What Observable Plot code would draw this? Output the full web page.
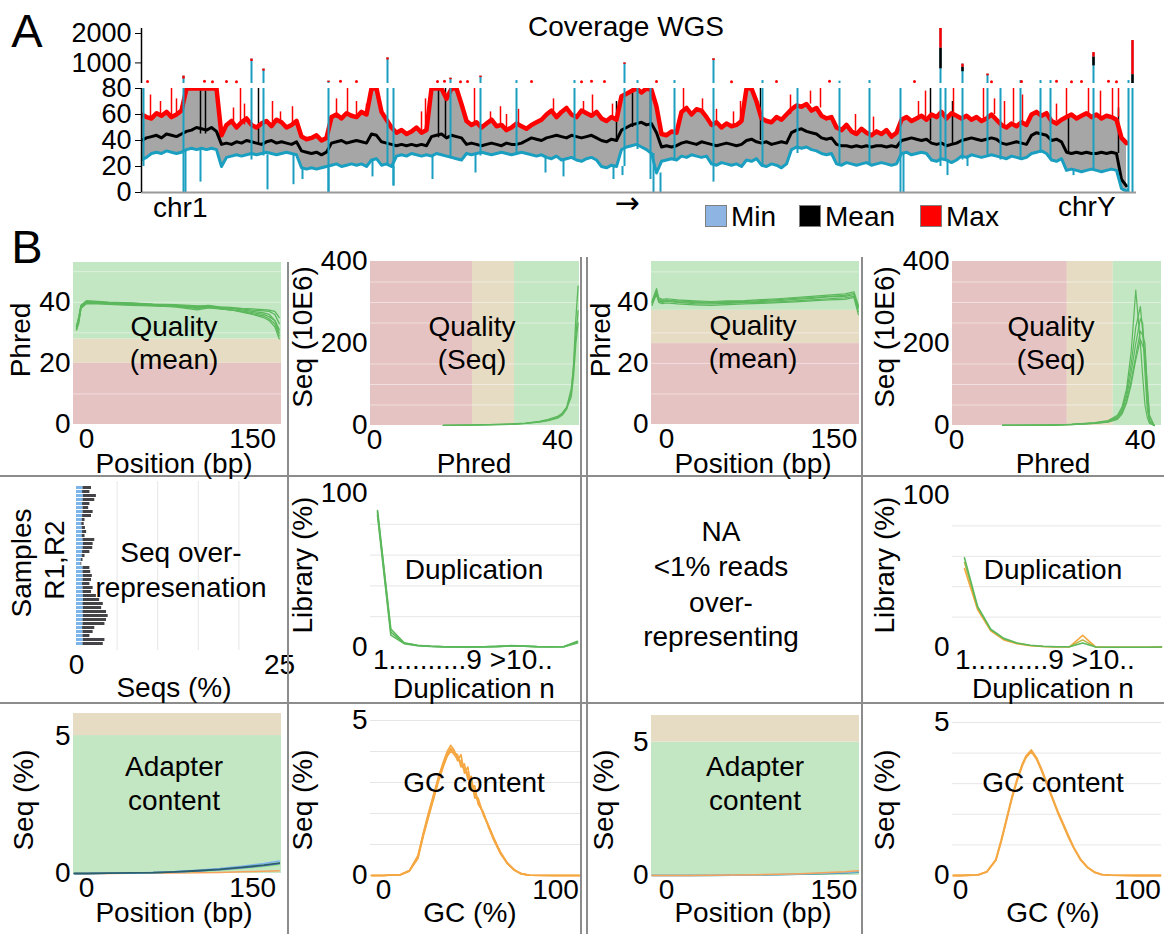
<!DOCTYPE html>
<html><head><meta charset="utf-8">
<script src="https://cdn.jsdelivr.net/npm/d3@7"></script>
<script src="https://cdn.jsdelivr.net/npm/@observablehq/plot@0.6"></script>
<style>
html,body{margin:0;padding:0;background:#fff;}
#root{position:relative;width:1164px;height:934px;overflow:hidden;font-family:"Liberation Sans",Arial,sans-serif;color:#000;background:#fff;}
.t{position:absolute;white-space:nowrap;font-size:28px;line-height:1;}
.sep{position:absolute;background:#8c8c8c;}
.box{position:absolute;width:22px;height:22px;box-sizing:border-box;}
</style></head><body><div id="root"></div>
<script>
// ---------------- DATA: Panel A (coverage, bins along the genome) ----------------
const covMax = [
 60,58, 57,61,59,62,58,60,63, 80,80,80,80,80,80,80, 44,
 52,55,50,54,57,52,50,53,55,51,56,54,50,52,55, 43,41,42,44,40,42,
 58,60,57,61,59,58,62,60, 80,80, 62,56,50, 46,48,45,47,50,46,48,
 80,80,80,72,80,80,68, 55,52,54,50,53,56,51,52,48,50,53,51,49,52,54,56,
 60,63,58,62,65,60,58,63,61,59,62, 57,55,58,56, 74,76,78,80,77,80,79,66,
 45,44,47,46, 62,65,60,64,63,58, 52,54,50,53,51,52,55, 80,80,70,
 57,55,54,58,56,60, 64,67,66,68,63,65, 59,57,58,
 50,48,52,47,45,49,46,44,47,45,48,43,46, 56,58,55,57,59,56, 60,58,62,57,61,59,
 57,59,56,58,55,57,60,56, 52,50,53,51,54,52, 60,62,59,61, 55,53,56,
 58,60,57,59,61,58,60,57,59,58,56, 42,38];
const covMean = [
 40,42, 43,44,42,45,44,43,45, 47,48,50,49,48,50,47, 37,
 38,37,39,38,40,39,38,37,39,40,38,39,38,37,39, 32,31,30,31,29,31,
 38,39,40,38,39,40,39,38, 45,44, 39,38,37, 36,37,36,37,36,37,36,
 43,44,45,42,44,43,42, 37,38,37,36,37,38,37,36,38,37,37,38,40,42,41,40,
 42,43,44,43,42,44,43,42,43,44,42, 40,39,41,40, 48,50,52,53,54,52,53,46,
 35,36,35,36, 38,39,38,37,39,38, 37,36,37,38,37,36,37, 40,41,39,
 38,39,37,38,39,38, 46,48,49,47,46,45, 42,41,42,
 37,36,36,35,36,35,36,35,36,36,35,36,35, 40,41,42,41,40,41, 38,37,38,36,37,38,
 40,41,42,41,40,41,42,41, 38,37,38,39,38,37, 44,46,45,44, 40,41,39,
 31,30,31,30,31,30,30,31,30,31,30, 10,5];
const covMin = [
 25,27, 30,31,30,32,31,30,31, 33,34,33,34,33,34,33, 20,
 27,28,29,28,29,30,29,30,31,30,29,30,31,30,29, 19,18,19,18,19,20,
 21,22,20,21,22,21,22,20, 25,26, 21,22,20, 28,29,28,30,29,28,29,
 28,30,29,28,27,26,25, 30,29,30,31,30,29,30,31,30,29,30,31,30,29,28,29,
 27,26,28,25,26,27,25,24,26,27,25, 20,19,21,20, 33,35,36,37,35,33,30,15,
 24,25,26,25, 28,27,29,28,27,28, 22,21,23,22,21,22,20, 25,24,26,
 21,20,22,21,19,22, 33,35,34,35,33,32, 30,29,30,
 22,21,23,22,21,22,23,21,22,23,22,21,22, 30,31,29,30,31,30, 25,24,26,25,23,25,
 28,27,29,28,27,28,29,28, 27,26,28,27,26,27, 30,31,32,30, 25,24,26,
 17,18,17,16,17,18,17,16,17,18,17, 3,1];
// [bin, low, high] teal spikes reaching the top / upper segment
const tealSpikes = [[0.4,20,80],[8.4,0,550],[22,25,1130],[24.4,28,790],[37.4,0,380],[49.2,20,1170],[50.4,5,80],
 [61.8,26,480],[67.8,28,550],[75,30,400],[86.6,25,400],[96.6,20,1000],[99.2,33,400],[101.8,10,80],[106.6,25,400],
 [114.4,22,1140],[124.2,20,400],[131.2,30,80],[139.6,20,380],[145.6,22,400],[151.8,0,80],[159.8,20,2170],[160.8,25,80],
 [164.2,25,960],[169.2,28,620],[171.8,25,80],[175.8,25,400],[179.8,30,400],[181.8,25,400],[190.4,17,1350],[197.4,0,400],[198.2,0,1760]];
const redTips = [[159.8,1500,2170],[198.2,600,1760],[190.4,1200,1350],[164.2,850,960],[8.4,450,550],[22,1050,1130],
 [49.2,1100,1170],[96.6,950,1000],[114.4,1080,1140],[169.2,560,620],[24.4,720,790],[37.4,330,380],[61.8,430,480],[67.8,500,550]];
const blackTips = [[159.8,800,1500],[198.2,300,600],[190.4,900,1200],[164.2,700,850]];
const redSpikes = [[1.8,55,75],[3.8,58,70],[6,58,80],[7,60,72],[18.4,52,65],[19.8,54,80],[20.6,52,68],[26.2,51,70],[27.8,54,62],
 [30.2,52,66],[39,57,72],[41.2,59,80],[43,59,70],[45,60,68],[56,46,62],[56.8,48,72],[66.6,52,80],[69.8,53,62],[71.8,52,66],
 [73,48,60],[75.4,53,64],[82.4,63,72],[88.4,61,70],[90.2,59,75],[94.2,58,68],[108.4,62,80],[112.2,63,72],[115,54,64],
 [118.4,51,62],[119.8,52,70],[129.8,60,75],[133.8,68,78],[135.8,65,80],[142.8,47,60],[146.4,45,58],[155.4,57,70],
 [156.8,56,78],[162.4,61,80],[168.4,57,80],[170.6,60,72],[172.6,52,70],[174.4,54,80],[176.2,52,75],[183,55,68],
 [185,58,80],[189.4,58,80],[191.8,57,78],[194.2,58,80],[195.4,58,80]];
const blackSpikes = [[11.8,45,80],[12.8,45,78],[23.4,38,80],[59.4,42,80],[60.8,42,80],[95,40,70],[98.2,50,80],
 [101.8,50,80],[123.8,40,80],[157.8,40,80],[162.2,37,70],[185.4,30,60],[195.4,30,65]];
const tealDips = [[8.8,0,33],[11.8,8,33],[25.2,2,29],[30.4,6,30],[32.2,10,19],[37.4,0,19],[46.2,12,25],[50.4,5,20],
 [58.2,10,28],[66.8,15,29],[80.8,15,28],[84.4,12,26],[94.4,10,20],[96.2,13,20],[102.4,0,30],[103.8,0,15],[114.4,8,22],
 [152.4,0,30],[161.2,13,25],[165.2,20,27],[186.4,13,18],[197.2,0,3]];
const redDots = [[1.2,370],[12.6,380],[14.2,360],[17,370],[19,360],[39.8,380],[43,370],[59.2,370],[60.6,380],[63.8,360],
 [65.2,370],[78,370],[88,360],[90,380],[92.6,370],[103,370],[118,360],[127,370],[137.6,380],[154.6,370],[170,360],
 [176,370],[183,380],[186,360],[188,370],[193.4,380],[195,360]];
const covTicksLow = [0,20,40,60,80];
const covTicksHigh = [1000,2000];

// ---------------- DATA: Panel B ----------------
const q1x = [-9,-7,-5,0,10,20,40,60,80,100,110,120,130,140,150,160,165,170,174];
const q1s1 = [31,34,38,40,40,39.8,39.5,39.2,39,38.6,39,38.5,38.3,38,37.8,37.6,37.4,37,35];
const q1s2 = [32,35,39,40.5,40.3,40,39.8,39.4,39.2,38.8,38.6,38.4,38,37.5,37,36.5,36,34,31];
const q1s3 = [31,33,38,39.5,39.5,39.3,39,38.8,38.5,37.5,38.2,37.8,37.5,37,36.2,35.5,34.5,33,29];
const q1s4 = [32,34,38.5,40,40,39.6,39.3,39,38.7,38.2,38.4,38.1,37.6,36.8,36,35,34,32,28];
const q1s5 = [31.5,34,38,39.8,39.7,39.5,39.2,38.9,38.6,38,38.3,37.9,37.4,37.2,36.6,36,35.2,34,30];
const q1s6 = [32,35,38.8,40.2,40.1,39.9,39.7,39.3,39,38.5,38.8,38.3,38.1,37.8,37.4,37.2,37,36,33];
const qs1x = [15,20,25,30,33,36,38,40,41,42,43,43.5,44,44.5];
const qs1a = [0.5,1,2,3,5,8,12,18,25,40,80,150,260,340];
const qs1b = [0.5,1,2,4,6,10,15,22,30,45,90,140,220,280];
const qs1c = [0.4,0.9,1.5,3,5,9,13,20,28,42,70,120,200,250];
const q2x = [-13,-11,-9,-7,-4,0,10,25,40,55,70,85,100,115,130,145,160,168,172];
const q2s1 = [40,42,44,41,40.5,40.8,40.2,40,39.8,40.1,40,40.3,40.6,41,41.3,41.8,42,42.5,38];
const q2s2 = [39,41,43,40.5,40,40.3,40,39.6,39.5,39.7,39.9,40,40.2,40.5,40.8,41.2,41.5,42,37];
const q2s3 = [40.5,42.5,44.5,41.5,41,41.2,40.8,40.5,40.3,40.5,40.6,40.9,41.2,41.6,42,42.4,42.8,43.5,39];
const q2s4 = [39.5,41,42.5,40,39.6,39.8,39.5,39.2,39,39.3,39.5,39.7,39.9,40.2,40.5,40.8,41,41.6,36];
const q2s5 = [40,41.5,43.5,41,40.3,40.5,40.5,40.2,40,40.3,40.3,40.6,40.9,41.3,41.6,42,42.3,43,38.5];
const qs2x = [10,20,25,30,33,35,36,37,38,39,40,40.5,41,41.5,42,43];
const qs2a = [0.2,1,3,7,12,25,45,90,180,330,200,120,50,20,5,0];
const qs2b = [0.2,1,3,6,11,22,40,80,150,240,290,230,130,40,8,0];
const qs2c = [0.2,1,2.5,6,10,20,35,70,130,200,260,250,160,60,12,0];
const qs2d = [0.2,0.8,2,5,9,18,30,60,110,170,230,220,200,90,20,0];
const qs2e = [0.2,0.8,2,5,8,15,28,55,100,160,210,195,180,100,25,0];
const overSamples = d3.range(1, 41);
const overR1 = [0.8,0.75,0.85,0.8,0.75,0.8,0.8,0.75,0.7,0.65,0.7,0.75,0.7,0.8,0.85,0.8,0.75,0.7,0.6,0.55,
 0.8,0.8,0.85,0.8,0.75,0.8,0.8,0.85,0.85,0.8,0.85,0.8,0.85,0.8,0.8,0.75,0.8,0.8,0.85,0.8];
const overR2 = [1.05,0.9,1.6,1.45,0.9,0.7,1.25,1.1,0.35,0.3,0.4,0.5,0.35,1.45,1.2,1.2,0.9,0.35,0.2,0.1,
 0.85,0.95,1.1,1.05,0.9,1.25,1.05,1.6,2.0,2.5,2.25,2.9,3.05,2.9,2.7,1.5,1.25,0.85,2.65,2.5];
const dupX = [1,2,3,4,5,6,7,8,9,10,11,12,13,14,15,16];
const dupL1 = [89,12,3,1.5,0.8,0.5,0.4,0.4,0.5,0.8,1.2,1.0,0.6,0.5,0.6,4];
const dupL2 = [86,8,2.5,1.2,0.7,0.4,0.3,0.4,0.4,0.6,1.0,0.8,0.5,0.4,0.5,3];
const dupL3 = [88,10,2.8,1.3,0.8,0.5,0.4,0.4,0.5,0.7,1.1,0.9,0.5,0.5,0.6,3.5];
const dupRg = [59,27,12,6,3,1.5,0.8,0.5,0.5,3,0.3,0.2,0.2,0.2,0.2,0.3];
const dupRo = [52,25,11,5,2.5,1.2,0.7,0.4,0.4,8,0.3,0.2,0.2,0.2,0.2,0.3];
const dupRy = [56,26,11.5,5.5,2.8,1.4,0.7,0.5,0.5,5,0.3,0.2,0.2,0.2,0.2,0.3];
const dupTickText = "1..........9  >10..";
const ad1x = [-11,0,20,40,60,80,100,120,140,160,174];
const ad1blue = [0,0,0.01,0.02,0.04,0.07,0.12,0.18,0.26,0.36,0.45];
const ad1dark = [0,0,0.01,0.02,0.03,0.06,0.1,0.15,0.22,0.3,0.38];
const ad1green = [0,0,0.01,0.01,0.03,0.05,0.08,0.12,0.18,0.25,0.32];
const ad1purple = [0,0,0.01,0.02,0.03,0.05,0.09,0.14,0.2,0.28,0.35];
const ad1orange = [0,0,0,0.01,0.01,0.02,0.03,0.04,0.06,0.08,0.1];
const ad2x = [-13,0,20,40,60,80,100,120,140,160,172];
const ad2orange = [0,0,0,0.01,0.02,0.03,0.05,0.07,0.1,0.14,0.18];
const ad2blue = [0,0,0,0.01,0.01,0.02,0.04,0.06,0.08,0.11,0.14];
const ad2teal = [0,0,0,0,0.01,0.02,0.03,0.05,0.07,0.09,0.12];
const gc1x = [-7,0,10,15,20,23,26,29,32,35,37,39,41,43,45,47,49,51,53,55,58,61,64,68,72,76,80,85,100,114];
const gc1a = [0,0,0.03,0.15,0.6,1.3,1.9,2.5,3.1,3.6,3.9,4.1,4.0,3.8,3.6,3.4,3.2,2.9,2.6,2.4,2.0,1.6,1.2,0.75,0.4,0.18,0.06,0.01,0,0];
const gc1b = [0,0,0.03,0.16,0.65,1.35,2.0,2.6,3.2,3.7,4.0,4.2,4.05,3.7,3.9,3.3,3.5,2.8,2.9,2.3,2.05,1.55,1.15,0.7,0.38,0.17,0.05,0.01,0,0];
const gc1c = [0,0,0.02,0.14,0.55,1.25,1.85,2.45,3.05,3.55,3.85,4.0,3.95,3.9,3.5,3.6,3.1,3.2,2.5,2.5,1.95,1.6,1.2,0.72,0.4,0.18,0.06,0.01,0,0];
const gc1d = [0,0,0.03,0.15,0.6,1.3,1.95,2.55,3.15,3.65,3.95,4.05,3.9,3.75,3.7,3.45,3.3,3.0,2.75,2.35,2.0,1.62,1.22,0.74,0.4,0.18,0.06,0.01,0,0];
const gc2x = [-4,0,10,15,20,23,26,29,32,35,37,40,43,46,49,52,55,58,61,64,68,72,76,80,85,100,113];
const gc2a = [0,0,0.02,0.12,0.5,1.1,1.8,2.5,3.1,3.6,3.85,4.05,3.8,3.4,2.95,2.5,2.05,1.65,1.25,0.9,0.5,0.25,0.1,0.03,0.01,0,0];
const gc2b = [0,0,0.02,0.13,0.52,1.15,1.85,2.55,3.15,3.65,3.9,4.1,3.85,3.45,3.0,2.55,2.1,1.7,1.3,0.92,0.52,0.26,0.1,0.03,0.01,0,0];
const qMeanZonesL = [0,20,28,53];
const qMeanZonesR = [0,26.5,37.4,53.4];
const qSeqZonesL = [-0.9,21.4,30.6,44.8];
const qSeqZonesR = [-0.9,24.1,34.1,44.6];
const adaptZonesL = [0,5,5.8];
const adaptZonesR = [0,5,6];

// ---------------- STYLE / HELPERS ----------------
const FONT = '"Liberation Sans", Arial, sans-serif';
const RED = "#e6c3c3", BEIGE = "#e6dcc3", GREEN = "#c3e6c3";
const LINEG = "#5cb85c", ORANGE = "#f5a742", TEAL = "#1a9fc0";
const root = document.getElementById("root");
const fmt = d => `${d}`;
const svgStyle = {background: "transparent", fontFamily: FONT, fontSize: "28px", overflow: "visible"};

function place(svg, left, top) {
  svg.style.position = "absolute";
  svg.style.left = left + "px";
  svg.style.top = top + "px";
  root.append(svg);
}
function txt(s, x, y, opt = {}) {
  const d = document.createElement("div");
  d.className = "t";
  d.textContent = s;
  d.style.fontSize = (opt.size || 28) + "px";
  if (opt.font) d.style.fontFamily = opt.font;
  d.style.left = x + "px"; d.style.top = y + "px";
  const ax = opt.anchor === "start" ? "0" : opt.anchor === "end" ? "-100%" : "-50%";
  d.style.transform = `translate(${ax},-50%)` + (opt.rotate ? ` rotate(${opt.rotate}deg)` : "");
  root.append(d);
}
function sep(x, y, w, h) {
  const d = document.createElement("div");
  d.className = "sep";
  Object.assign(d.style, {left: x + "px", top: y + "px", width: w + "px", height: h + "px"});
  root.append(d);
}
function series(xs, ys) { return xs.map((x, i) => ({x, y: ys[i]})); }
function hZones(edges, xd, fills) {
  return edges.slice(1).map((e, i) => ({x1: xd[0], x2: xd[1], y1: edges[i], y2: e, f: fills[i]}));
}
function vZones(edges, yd, fills) {
  return edges.slice(1).map((e, i) => ({x1: edges[i], x2: e, y1: yd[0], y2: yd[1], f: fills[i]}));
}
function frame(o) {
  const ml = 100, mr = 4, mt = 10, mb = 50;
  const W = o.fx[1] - o.fx[0] + ml + mr, H = o.fy[1] - o.fy[0] + mt + mb;
  const marks = [...o.marks];
  if (o.xt) marks.push(Plot.axisX({ticks: o.xt, tickSize: 0, tickPadding: 4, tickFormat: fmt, label: null}));
  if (o.yt) marks.push(Plot.axisY({ticks: o.yt, tickSize: 0, tickPadding: 3, tickFormat: fmt, label: null}));
  const svg = Plot.plot({
    width: W, height: H, marginLeft: ml, marginRight: mr, marginTop: mt, marginBottom: mb,
    x: Object.assign({domain: o.xd, axis: null}, o.xopt || {}),
    y: Object.assign({domain: o.yd, axis: null}, o.yopt || {}),
    color: o.color, style: svgStyle, marks
  });
  place(svg, o.fx[0] - ml, o.fy[0] - mt);
}
const zoneRect = z => Plot.rect(z, {x1: "x1", x2: "x2", y1: "y1", y2: "y2", fill: "f"});
function lines(xs, list, stroke, w) {
  return list.map(ys => Plot.line(series(xs, ys), {x: "x", y: "y", stroke, strokeWidth: w}));
}

// ---------------- PANEL A ----------------
const cov = covMax.map((v, i) => ({b: i, max: v, mean: covMean[i], min: covMin[i]}));
const seg = a => a.map(([b, lo, hi]) => ({b, lo, hi}));
const ruleSeg = (a, stroke, w) => Plot.ruleX(seg(a), {x: "b", y1: "lo", y2: "hi", stroke, strokeWidth: w, clip: true});
const styleA = Object.assign({}, svgStyle, {fontSize: "27px"});
// lower segment 0–80
place(Plot.plot({
  width: 1164, height: 200, marginLeft: 141, marginRight: 28, marginTop: 88, marginBottom: 8,
  x: {domain: [0, 199], axis: null}, y: {domain: [0, 80], axis: null}, style: styleA,
  marks: [
    Plot.areaY(cov, {x: "b", y1: "min", y2: "max", fill: "#a6a6a6", clip: true}),
    ruleSeg(blackSpikes, "#000", 1.5),
    ruleSeg(redSpikes, "#ff0000", 1.5),
    Plot.line(cov, {x: "b", y: "max", stroke: "#ff0000", strokeWidth: 4.5, clip: true}),
    Plot.line(cov, {x: "b", y: "mean", stroke: "#000", strokeWidth: 3, clip: true}),
    Plot.line(cov, {x: "b", y: "min", stroke: TEAL, strokeWidth: 3, clip: true}),
    ruleSeg(tealDips, TEAL, 2),
    ruleSeg(tealSpikes, TEAL, 2),
    Plot.ruleY([0], {stroke: "#999", strokeWidth: 2}),
    Plot.ruleX([0], {stroke: "#000", strokeWidth: 1.5}),
    Plot.axisY({ticks: covTicksLow, tickSize: 6, tickPadding: 4, tickFormat: fmt, label: null})
  ]
}), 0, 0);
// upper segment (>300)
place(Plot.plot({
  width: 1164, height: 83, marginLeft: 141, marginRight: 28, marginTop: 28, marginBottom: 0,
  x: {domain: [0, 199], axis: null}, y: {domain: [300, 2170], axis: null}, style: styleA,
  marks: [
    ruleSeg(tealSpikes, TEAL, 2),
    ruleSeg(blackTips, "#000", 2.5),
    ruleSeg(redTips, "#ff0000", 2.5),
    Plot.dot(redDots.map(([b, v]) => ({b, v})), {x: "b", y: "v", fill: "#ff0000", r: 1.5}),
    Plot.ruleX([0], {stroke: "#000", strokeWidth: 1.5}),
    Plot.axisY({ticks: covTicksHigh, tickSize: 6, tickPadding: 4, tickFormat: fmt, label: null})
  ]
}), 0, 0);
txt("A", 27, 30, {size: 47});
txt("Coverage WGS", 626, 27);
txt("chr1", 153, 208, {anchor: "start"});
txt("chrY", 1058, 207, {anchor: "start"});
txt("→", 627, 203, {size: 30, font: '"DejaVu Sans", sans-serif'});
[["Min", 705, "#8eb4e3"], ["Mean", 799, "#000"], ["Max", 920, "#ff0000"]].forEach(([s, x, c]) => {
  const b = document.createElement("div");
  b.className = "box";
  Object.assign(b.style, {left: x + "px", top: "205px", background: c, border: "1px solid #7f7f7f"});
  root.append(b);
  txt(s, x + 26, 217, {anchor: "start"});
});

// ---------------- PANEL B ----------------
txt("B", 27, 246, {size: 47});

const q1xd = [-11.7, 176], q2xd = [-13.5, 173];
frame({fx: [73, 281], fy: [262, 424], xd: q1xd, yd: [0, 53], xt: [0, 150], yt: [0, 20, 40],
  marks: [zoneRect(hZones(qMeanZonesL, q1xd, [RED, BEIGE, GREEN])),
    Plot.ruleY([10, 30, 40, 50], {stroke: "#fff", strokeOpacity: 0.45}),
    ...lines(q1x, [q1s1, q1s2, q1s3, q1s4, q1s5, q1s6], LINEG, 1.3)]});
frame({fx: [370, 579], fy: [261, 425], xd: [-0.9, 44.8], yd: [0, 400], xt: [0, 40], yt: [0, 200, 400],
  marks: [zoneRect(vZones(qSeqZonesL, [0, 400], [RED, BEIGE, GREEN])),
    Plot.ruleY([50, 100, 150, 250, 300, 350], {stroke: "#fff", strokeOpacity: 0.45}),
    ...lines(qs1x, [qs1a, qs1b, qs1c], LINEG, 1.3)]});
frame({fx: [651, 859], fy: [261, 424], xd: q2xd, yd: [0, 53.4], xt: [0, 150], yt: [0, 20, 40],
  marks: [zoneRect(hZones(qMeanZonesR, q2xd, [RED, BEIGE, GREEN])),
    Plot.ruleY([10, 20, 30, 50], {stroke: "#fff", strokeOpacity: 0.45}),
    ...lines(q2x, [q2s1, q2s2, q2s3, q2s4, q2s5], LINEG, 1.2)]});
frame({fx: [952, 1161], fy: [261, 425], xd: [-0.9, 44.6], yd: [0, 400], xt: [0, 40], yt: [0, 200, 400],
  marks: [zoneRect(vZones(qSeqZonesR, [0, 400], [RED, BEIGE, GREEN])),
    Plot.ruleY([50, 100, 150, 250, 300, 350], {stroke: "#fff", strokeOpacity: 0.45}),
    ...lines(qs2x, [qs2a, qs2b, qs2c, qs2d, qs2e], LINEG, 1.2)]});

const overRows = [];
overSamples.forEach((s, i) => { overRows.push({s, read: "R1", v: overR1[i]}); overRows.push({s, read: "R2", v: overR2[i]}); });
frame({fx: [76, 279], fy: [481, 650], xd: [0, 25], yd: overSamples, xt: [0, 25],
  yopt: {type: "band", padding: 0.15},
  color: {domain: ["R1", "R2"], range: ["#7cb5ec", "#434348"]},
  marks: [Plot.ruleX([5, 10, 15, 20], {stroke: "#e6e6e6"}),
    Plot.barX(overRows, {y: "s", x: "v", fill: "read"})]});
frame({fx: [370, 580], fy: [493, 647], xd: [0.475, 16.23], yd: [0, 100], yt: [0, 100],
  marks: [Plot.ruleY([20, 40, 60, 80], {stroke: "#e6e6e6"}),
    ...lines(dupX, [dupL1, dupL2, dupL3], LINEG, 1.6)]});
frame({fx: [952, 1161], fy: [495, 647], xd: [0.09, 16], yd: [0, 100], yt: [0, 100],
  marks: [Plot.ruleY([20, 40, 60, 80], {stroke: "#e6e6e6"}),
    ...lines(dupX, [dupRo], ORANGE, 1.6), ...lines(dupX, [dupRy], "#b5b33c", 1.4), ...lines(dupX, [dupRg], LINEG, 1.6)]});

const a1xd = [-11.7, 176], a2xd = [-13.5, 173];
frame({fx: [73, 281], fy: [713, 873], xd: a1xd, yd: [0, 5.8], xt: [0, 150], yt: [0, 5],
  marks: [zoneRect(hZones(adaptZonesL, a1xd, [GREEN, BEIGE])),
    ...lines(ad1x, [ad1orange], "#f7a35c", 1.5), ...lines(ad1x, [ad1green], "#90ed7d", 1.5),
    ...lines(ad1x, [ad1purple], "#8085e9", 1.5), ...lines(ad1x, [ad1blue], "#7cb5ec", 1.5),
    ...lines(ad1x, [ad1dark], "#2b5f6b", 1.8)]});
frame({fx: [370, 580], fy: [720, 875], xd: [-7.6, 114.5], yd: [0, 5], xt: [0, 100], yt: [0, 5],
  marks: [Plot.ruleY([1, 2, 3, 4, 5], {stroke: "#e6e6e6"}),
    ...lines(gc1x, [gc1a, gc1b, gc1c, gc1d], ORANGE, 1.6)]});
frame({fx: [651, 859], fy: [715, 875], xd: a2xd, yd: [0, 6], xt: [0, 150], yt: [0, 5],
  marks: [zoneRect(hZones(adaptZonesR, a2xd, [GREEN, BEIGE])),
    ...lines(ad2x, [ad2teal], "#2b908f", 1.5), ...lines(ad2x, [ad2blue], "#7cb5ec", 1.5),
    ...lines(ad2x, [ad2orange], "#f7a35c", 1.5)]});
frame({fx: [952, 1161], fy: [722, 875], xd: [-4.5, 113.6], yd: [0, 5], xt: [0, 100], yt: [0, 5],
  marks: [Plot.ruleY([1, 2, 3, 4, 5], {stroke: "#e6e6e6"}),
    ...lines(gc2x, [gc2a, gc2b], ORANGE, 1.8)]});

// separators
sep(287, 262, 2, 672);
sep(580, 257, 2, 677);
sep(586, 257, 2, 677);
sep(861, 257, 2, 677);
sep(0, 475, 1164, 2);
sep(0, 702, 1164, 2);

// axis titles & annotations
txt("Phred", 21, 340, {rotate: -90});
txt("Position (bp)", 174, 464);
txt("Quality", 174, 327); txt("(mean)", 174, 360);
txt("Seq (10E6)", 303, 337, {rotate: -90});
txt("Phred", 474, 464);
txt("Quality", 472, 327); txt("(Seq)", 472, 360);
txt("Phred", 601, 340, {rotate: -90});
txt("Position (bp)", 753, 464);
txt("Quality", 753, 326); txt("(mean)", 753, 359);
txt("Seq (10E6)", 885, 337, {rotate: -90});
txt("Phred", 1053, 464);
txt("Quality", 1051, 327); txt("(Seq)", 1051, 360);

txt("Samples", 22, 563, {rotate: -90});
txt("R1,R2", 55, 560, {rotate: -90});
txt("Seqs (%)", 174, 688);
txt("Seq over-", 181, 553); txt("represenation", 181, 588);
txt("Library (%)", 303, 565, {rotate: -90});
txt(dupTickText, 373, 660, {anchor: "start"});
txt("Duplication n", 474, 689);
txt("Duplication", 474, 570);
txt("NA", 721, 532); txt("<1% reads", 721, 567); txt("over-", 721, 603); txt("representing", 721, 637);
txt("Library (%)", 885, 565, {rotate: -90});
txt(dupTickText, 955, 660, {anchor: "start"});
txt("Duplication n", 1053, 689);
txt("Duplication", 1053, 570);

txt("Seq (%)", 24, 800, {rotate: -90});
txt("Position (bp)", 174, 913);
txt("Adapter", 174, 767); txt("content", 174, 801);
txt("Seq (%)", 303, 800, {rotate: -90});
txt("GC (%)", 470, 913);
txt("GC content", 474, 783);
txt("Seq (%)", 604, 800, {rotate: -90});
txt("Position (bp)", 753, 913);
txt("Adapter", 755, 767); txt("content", 755, 801);
txt("Seq (%)", 885, 800, {rotate: -90});
txt("GC (%)", 1053, 913);
txt("GC content", 1053, 783);
</script></body></html>
